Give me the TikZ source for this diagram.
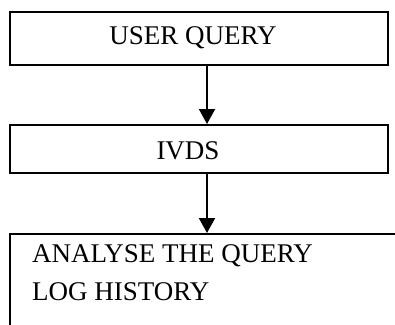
\documentclass[tikz,border=0pt]{standalone}
\usepackage{fontspec}
\setmainfont{Liberation Serif}
\usetikzlibrary{arrows.meta}
\begin{document}
\begin{tikzpicture}[x=1pt,y=1pt,
  stepbox/.style={draw,line width=2pt,inner sep=0pt},
  lbl/.style={font=\fontsize{27}{38}\selectfont,inner sep=0pt},
  flow/.style={line width=2pt,-{Triangle[width=16pt,length=15pt]}}]
\useasboundingbox (0,0) rectangle (395,-324);
\clip (0,0) rectangle (395,-324);
% boxes
\node[stepbox,minimum width=378pt,minimum height=53pt] (user) at (199,-38.5) {};
\node[stepbox,minimum width=378pt,minimum height=48pt] (ivds) at (199,-149) {};
\node[stepbox,minimum width=394pt,minimum height=120pt,anchor=north] (anal) at (207,-233) {};
% labels
\node[lbl] (t1) at (193,-38) {USER QUERY};
\node[lbl] (t2) at (188,-151) {IVDS};
\node[lbl,anchor=base west] (t3) at (32,-262) {ANALYSE THE QUERY};
\node[lbl,anchor=base west] (t4) at (32,-300) {LOG HISTORY};
% connectors
\draw[flow] (user.south -| anal.north) -- (ivds.north -| anal.north);
\draw[flow] (ivds.south -| anal.north) -- (anal.north);
\end{tikzpicture}
\end{document}
